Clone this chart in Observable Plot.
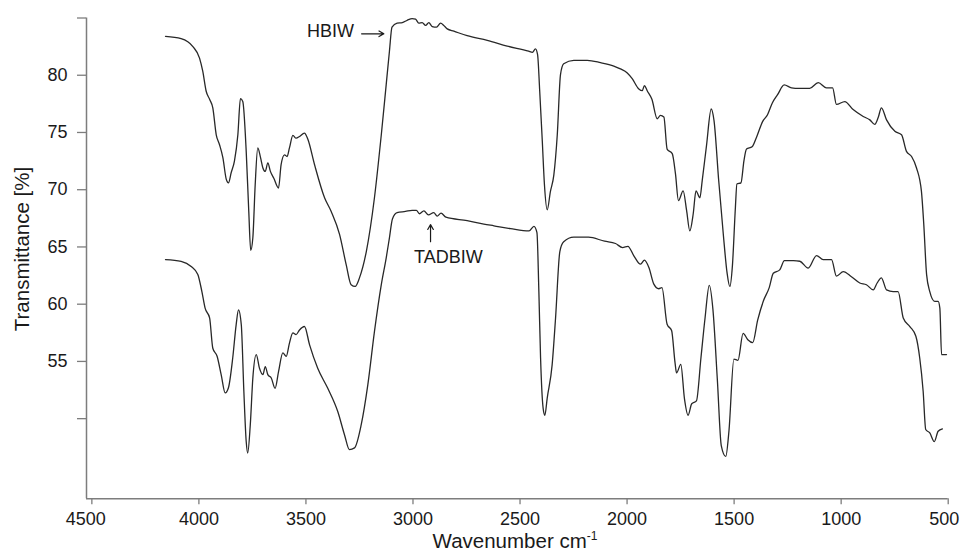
<!DOCTYPE html>
<html>
<head>
<meta charset="utf-8">
<script src="https://cdn.jsdelivr.net/npm/d3@7"></script>
<script src="https://cdn.jsdelivr.net/npm/@observablehq/plot@0.6"></script>
<style>
  html, body { margin: 0; padding: 0; background: #fff; }
  #chart { width: 960px; height: 552px; }
</style>
</head>
<body>
<div id="chart"></div>
<script>
// ---- Tick values / labels ----
const xTicks = [4500, 4000, 3500, 3000, 2500, 2000, 1500, 1000, 500];
const yTicks = [50, 55, 60, 65, 70, 75, 80, 85];
const yTickLabels = ["", "55", "60", "65", "70", "75", "80", ""];

// ---- HBIW spectrum (upper curve) ----
const hbiwWavenumber = [4156,4083,4028,3997,3982,3966,3950,3935,3919,3904,3888,3872,3862,3849,3834,3818,3806,3795,3779,3767,3758,3748,3737,3725,3712,3701,3690,3678,3666,3650,3628,3616,3600,3588,3577,3561,3546,3530,3507,3491,3460,3413,3382,3343,3312,3289,3270,3250,3218,3180,3148,3125,3110,3098,3074,3050,3027,3004,2988,2973,2957,2941,2926,2910,2890,2871,2856,2840,2809,2747,2653,2560,2460,2442,2428,2418,2408,2396,2386,2373,2358,2342,2326,2311,2296,2249,2186,2124,2062,2031,1999,1976,1945,1929,1919,1906,1884,1859,1844,1828,1813,1789,1774,1760,1738,1722,1707,1691,1678,1660,1649,1629,1607,1594,1572,1550,1533,1520,1508,1494,1487,1468,1454,1442,1416,1393,1367,1344,1321,1297,1266,1232,1197,1147,1107,1069,1040,1022,983,944,897,866,843,827,812,788,749,718,695,671,648,625,614,601,586,563,547,539,531,508];
const hbiwTransmittance = [83.4,83.2,82.5,81.5,80.35,78.6,77.9,77.15,74.8,73.95,72.8,70.9,70.6,71.5,72.5,74.8,77.95,77.7,73.35,68.1,64.7,65.8,70.45,73.65,72.8,71.9,71.6,72.35,71.6,71.0,70.15,72.2,73.05,72.9,73.65,74.75,74.5,74.65,74.95,74.4,72.2,69.3,68.1,66.1,63.45,61.7,61.55,62.3,64.6,69.3,74.8,79.2,82.1,84.2,84.55,84.6,84.8,84.95,84.9,84.55,84.6,84.35,84.6,84.25,84.2,84.55,84.35,84.05,83.85,83.45,83.05,82.55,82.1,82.0,82.3,81.8,78.6,74.25,70.45,68.25,69.85,71.3,74.8,80.05,81.0,81.3,81.3,81.1,80.8,80.55,80.2,79.7,78.8,78.65,79.1,78.65,77.9,76.2,76.5,76.35,73.55,73.15,71.4,69.05,69.9,68.2,66.4,67.9,69.9,69.3,70.8,73.85,77.05,76.05,70.8,66.0,62.75,61.55,63.35,68.45,70.5,70.6,72.55,73.55,73.75,74.7,75.95,76.55,77.6,78.3,79.15,78.9,78.85,78.85,79.35,78.9,78.9,77.45,77.7,77.0,76.4,76.1,75.7,76.3,77.15,76.1,75.1,74.8,73.35,72.9,71.9,69.85,66.95,62.6,61.1,60.25,60.25,59.65,55.6,55.6];

// ---- TADBIW spectrum (lower curve) ----
const tadbiwWavenumber = [4156,4083,4036,4005,3986,3971,3950,3935,3915,3896,3877,3862,3842,3826,3815,3802,3790,3779,3772,3760,3748,3732,3717,3701,3690,3678,3662,3644,3628,3608,3592,3577,3561,3546,3530,3507,3483,3445,3398,3351,3320,3297,3273,3242,3211,3180,3148,3125,3110,3096,3074,3035,3004,2984,2970,2949,2928,2903,2887,2869,2846,2747,2669,2622,2544,2458,2435,2421,2412,2404,2392,2384,2373,2350,2334,2314,2296,2249,2180,2105,2054,2021,1996,1969,1937,1919,1898,1875,1852,1837,1813,1792,1776,1769,1749,1732,1715,1698,1676,1655,1636,1616,1599,1578,1560,1539,1524,1501,1482,1458,1436,1413,1390,1363,1336,1317,1287,1265,1223,1193,1154,1115,1084,1045,1022,990,952,913,882,850,832,812,788,757,734,710,679,651,633,617,605,586,565,547,527];
const tadbiwTransmittance = [63.9,63.75,63.3,62.6,61.1,59.65,58.8,56.15,55.45,53.85,52.25,52.7,55.3,58.2,59.5,58.2,52.4,48.0,47.0,49.45,53.55,55.6,54.4,53.85,54.55,53.85,53.55,52.65,54.1,55.75,55.45,56.6,57.5,57.35,57.75,58.05,56.45,54.4,52.65,50.6,48.6,47.3,47.45,49.45,52.95,57.6,61.7,64.05,65.8,67.45,68.0,68.1,68.2,68.2,67.9,68.15,67.8,68.0,67.7,67.95,67.6,67.3,67.0,66.85,66.6,66.4,66.8,66.25,61.1,55.3,50.9,50.3,51.8,54.7,58.8,64.6,65.45,65.85,65.85,65.5,65.3,64.95,65.05,64.25,63.5,63.85,63.2,61.75,61.35,61.45,58.25,57.7,54.9,54.0,54.75,51.75,50.3,51.3,51.55,55.3,58.75,61.65,59.55,53.3,47.65,46.7,48.95,55.2,55.1,57.45,56.9,56.65,58.6,60.3,61.45,62.7,63.0,63.8,63.8,63.75,63.15,64.25,63.9,63.9,62.45,62.85,62.4,61.85,61.7,61.25,61.85,62.3,61.25,61.1,61.1,58.8,58.05,57.2,55.3,52.4,49.05,48.75,48.0,48.9,49.1];

// ---- Build tables for Plot ----
const hbiw = hbiwWavenumber.map((w, i) => ({wavenumber: w, transmittance: hbiwTransmittance[i]}));
const tadbiw = tadbiwWavenumber.map((w, i) => ({wavenumber: w, transmittance: tadbiwTransmittance[i]}));

const axisColor = "#7d7d7d";
const inkColor = "#1a1a1a";
const lineColor = "#282828";
const innerTicks = xTicks.slice(1, -1);
const firstTick = xTicks.slice(0, 1);
const lastTick = xTicks.slice(-1);

const chart = Plot.plot({
  width: 960,
  height: 552,
  marginTop: 17.5,
  marginBottom: 53.7,
  marginLeft: 86,
  marginRight: 12.3,
  style: {
    fontFamily: "'Liberation Sans', Arial, Helvetica, sans-serif",
    fontSize: "18px",
    color: inkColor,
    background: "#fff",
    overflow: "visible"
  },
  x: {domain: [4525, 500]},
  y: {domain: [43, 85]},
  marks: [
    Plot.ruleX([4525], {stroke: axisColor, strokeWidth: 1.5}),
    Plot.ruleY([43], {stroke: axisColor, strokeWidth: 1.5}),
    // ticks for all x values
    Plot.axisX(xTicks, {
      tickSize: 6, tickPadding: 7, stroke: axisColor, strokeWidth: 1.3,
      fill: inkColor, fontSize: 18, label: null, tickFormat: d => (innerTicks.includes(d) ? String(d) : "")
    }),
    // end labels nudged toward the frame corners as in the reference
    Plot.axisX(firstTick, {
      tickSize: 0, tickPadding: 13, dx: -6, fill: inkColor, fontSize: 18, label: null, tickFormat: d => String(d)
    }),
    Plot.axisX(lastTick, {
      tickSize: 0, tickPadding: 13, dx: -4, fill: inkColor, fontSize: 18, label: null, tickFormat: d => String(d)
    }),
    Plot.axisY(yTicks, {
      tickSize: 9, tickPadding: 10, stroke: axisColor, strokeWidth: 1.3,
      fill: inkColor, fontSize: 18, label: null,
      tickFormat: d => yTickLabels[yTicks.indexOf(d)]
    }),
    Plot.line(hbiw, {x: "wavenumber", y: "transmittance", stroke: lineColor, strokeWidth: 1.3, curve: "monotone-x"}),
    Plot.line(tadbiw, {x: "wavenumber", y: "transmittance", stroke: lineColor, strokeWidth: 1.3, curve: "monotone-x"}),
    Plot.text(["HBIW"], {x: 3385, y: 83.86, text: d => d, fontSize: 18, fill: inkColor, textAnchor: "middle"}),
    Plot.arrow([0], {x1: 3240, y1: 83.62, x2: 3136, y2: 83.62, stroke: inkColor, strokeWidth: 1.2, headLength: 7}),
    Plot.text(["TADBIW"], {x: 2835, y: 64.06, text: d => d, fontSize: 18, fill: inkColor, textAnchor: "middle"}),
    Plot.arrow([0], {x1: 2918, y1: 65.46, x2: 2918, y2: 66.95, stroke: inkColor, strokeWidth: 1.2, headLength: 7})
  ]
});

const svg = d3.select(chart);
// y-axis title
svg.append("text")
  .attr("transform", "translate(29.3,249) rotate(-90)")
  .attr("text-anchor", "middle")
  .attr("fill", inkColor)
  .attr("font-family", "'Liberation Sans', Arial, Helvetica, sans-serif")
  .attr("font-size", 20.5)
  .text("Transmittance [%]");
// x-axis title with superscript
const xt = svg.append("text")
  .attr("x", 515)
  .attr("y", 548.3)
  .attr("text-anchor", "middle")
  .attr("fill", inkColor)
  .attr("font-family", "'Liberation Sans', Arial, Helvetica, sans-serif")
  .attr("font-size", 20.5);
xt.append("tspan").text("Wavenumber cm");
xt.append("tspan").attr("font-size", 12).attr("dy", -8).text("-1");

document.getElementById("chart").appendChild(chart);
</script>
</body>
</html>
